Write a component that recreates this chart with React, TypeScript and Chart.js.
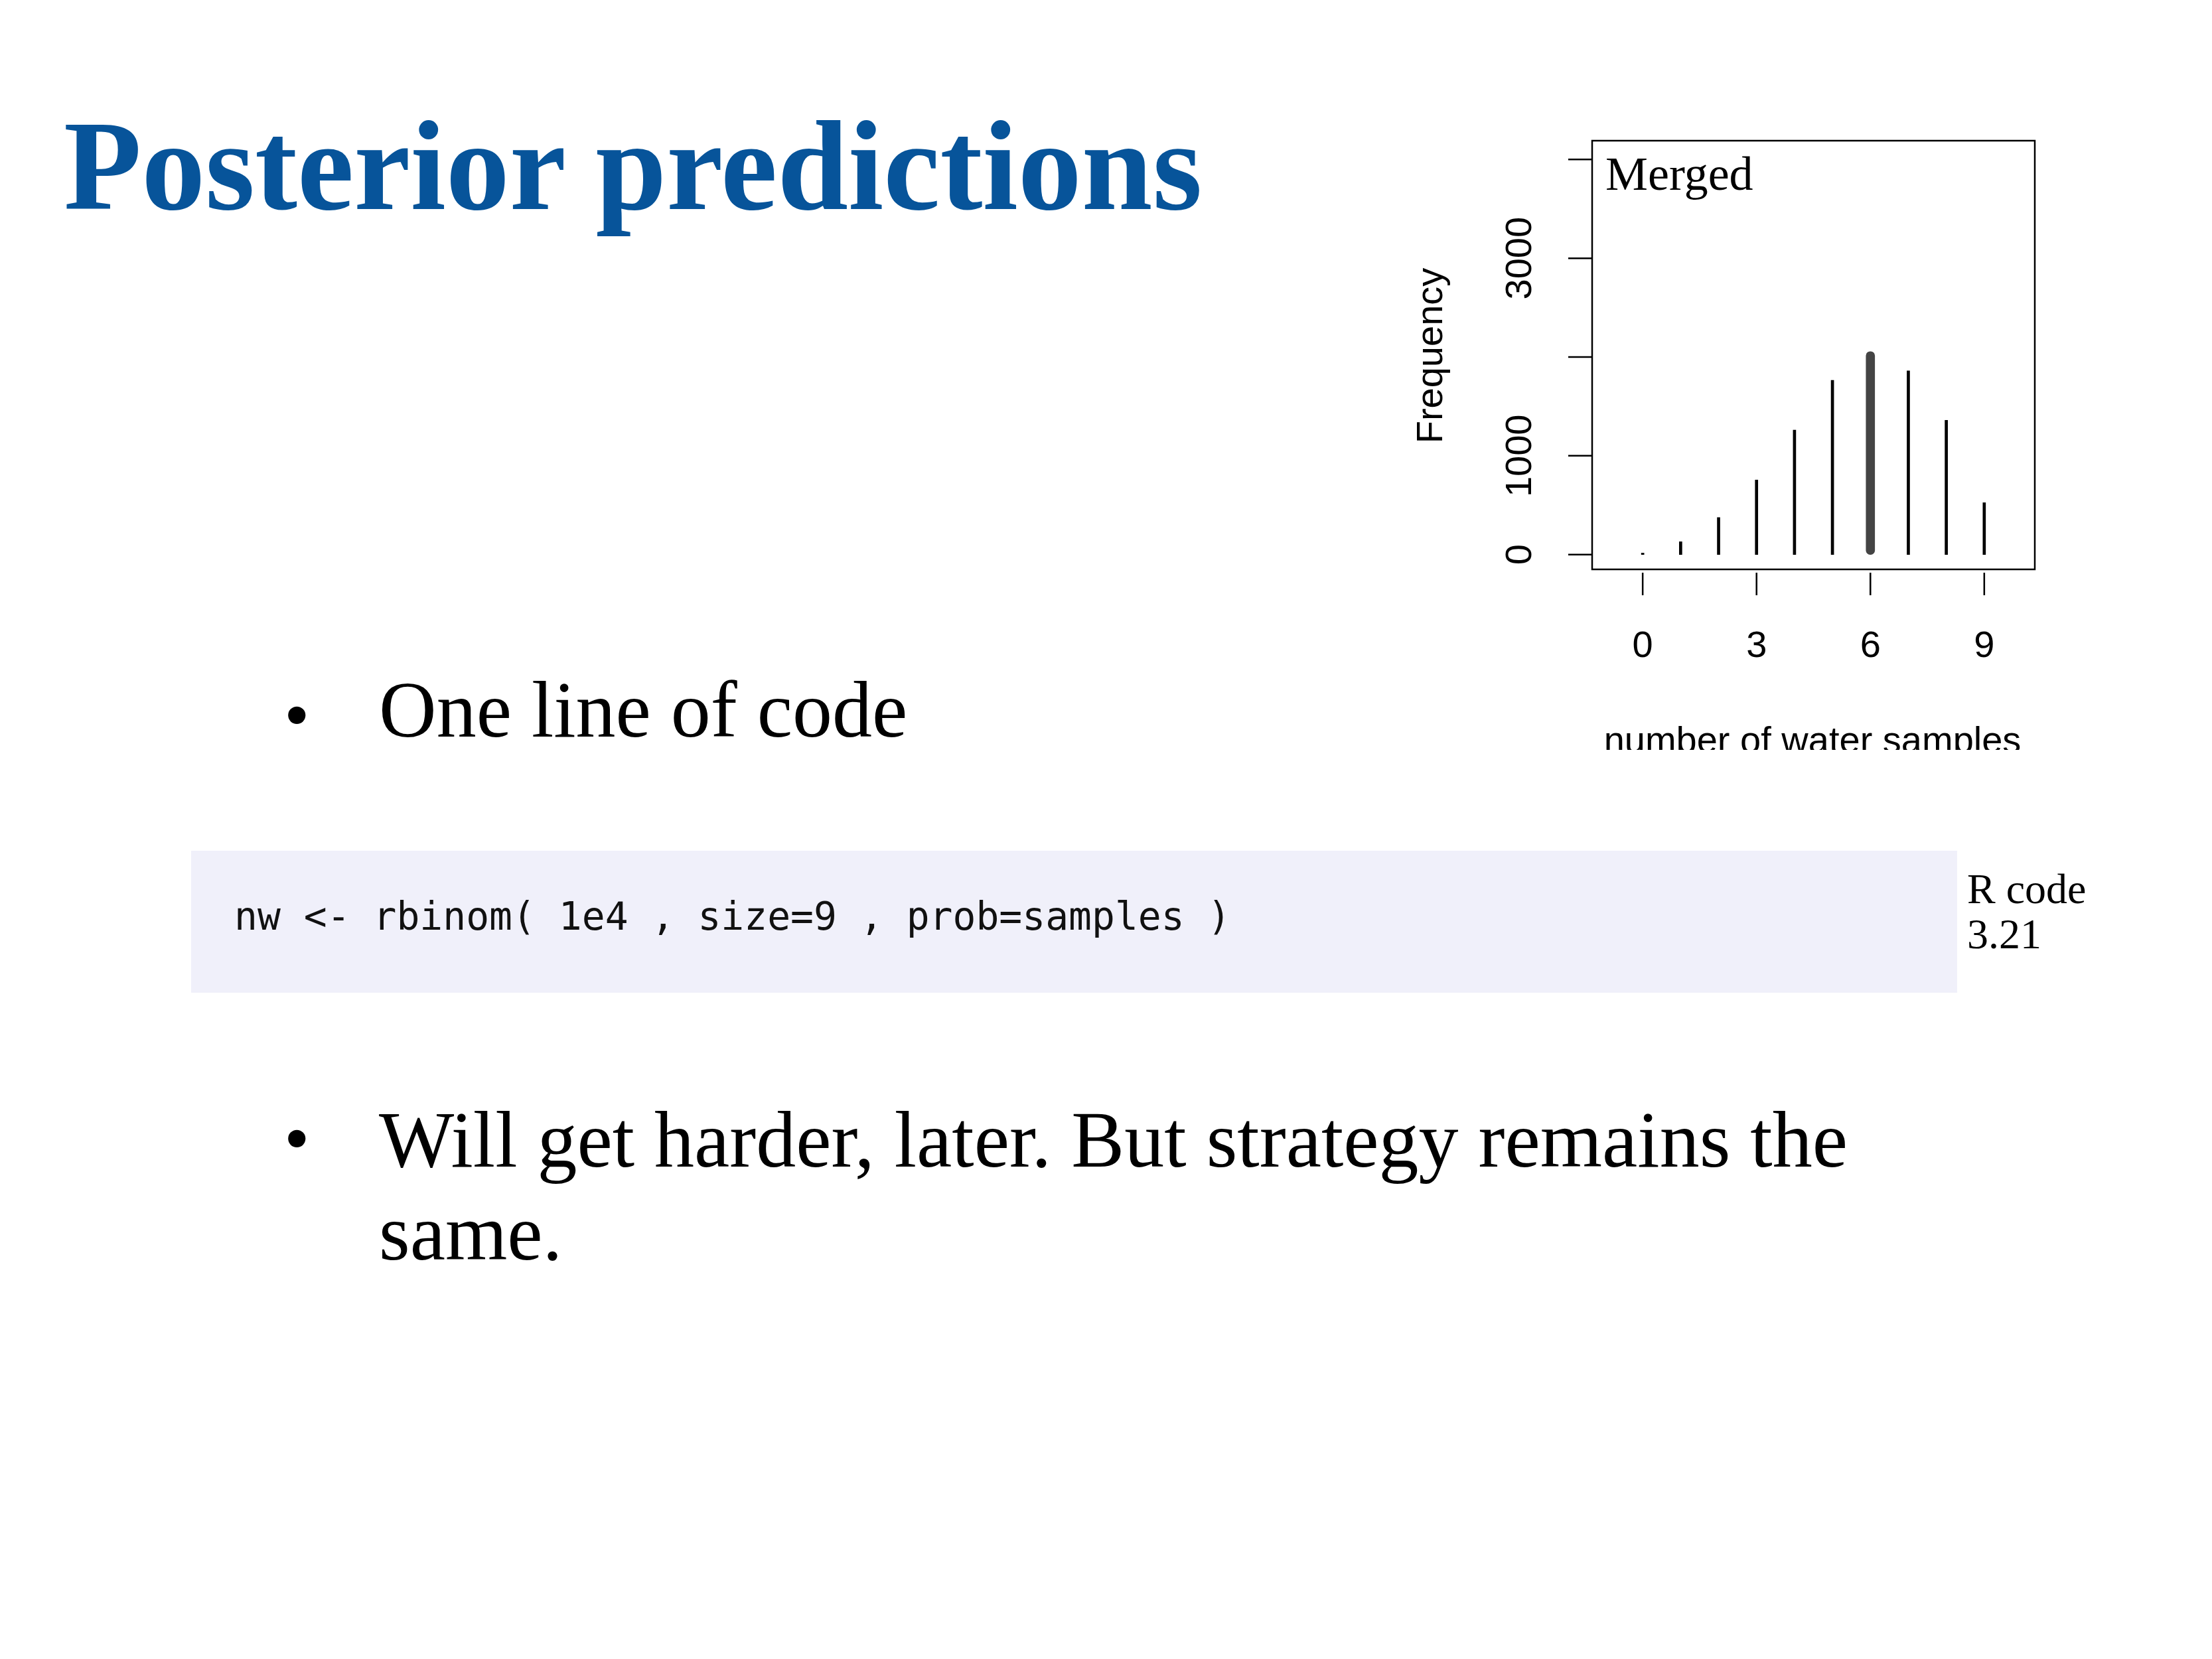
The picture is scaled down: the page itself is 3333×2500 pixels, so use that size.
import React, { useEffect, useRef } from "react";
import { Chart, registerables } from "chart.js";
Chart.register(...registerables);

const counts = [0, 1, 2, 3, 4, 5, 6, 7, 8, 9];
const frequency = [15, 130, 375, 755, 1260, 1765, 2055, 1860, 1360, 525];
const highlight = 6;
const yTicks = [0, 1000, 2000, 3000, 4000];
const yLabels = ["0", "1000", "", "3000", ""];
const xTicks = [0, 3, 6, 9];

const axesPlugin = {
  id: "raxes",
  afterDraw(chart: any) {
    const { ctx, chartArea: a, scales } = chart;
    const x = scales.x, y = scales.y;
    ctx.save();
    ctx.strokeStyle = "#000";
    ctx.lineWidth = 2.5;
    ctx.strokeRect(a.left, a.top, a.right - a.left, a.bottom - a.top);
    ctx.fillStyle = "#000";
    ctx.font = "56px 'Liberation Sans', Arial, sans-serif";
    yTicks.forEach((v, i) => {
      const py = y.getPixelForValue(v);
      ctx.beginPath(); ctx.moveTo(a.left - 36, py); ctx.lineTo(a.left, py); ctx.stroke();
      if (yLabels[i]) {
        ctx.save();
        ctx.translate(a.left - 107, py);
        ctx.rotate(-Math.PI / 2);
        ctx.textAlign = "center"; ctx.textBaseline = "middle";
        ctx.fillText(yLabels[i], 0, 0);
        ctx.restore();
      }
    });
    xTicks.forEach((v) => {
      const px = x.getPixelForValue(v);
      ctx.beginPath(); ctx.moveTo(px, a.bottom + 5); ctx.lineTo(px, a.bottom + 39); ctx.stroke();
      ctx.textAlign = "center"; ctx.textBaseline = "middle";
      ctx.fillText(String(v), px, 795);
    });
    ctx.fillText("number of water samples", 631, 939);
    ctx.save();
    ctx.translate(58, 356); ctx.rotate(-Math.PI / 2);
    ctx.fillText("Frequency", 0, 0);
    ctx.restore();
    ctx.font = "72px 'Liberation Serif', 'Times New Roman', serif";
    ctx.textAlign = "left"; ctx.textBaseline = "alphabetic";
    ctx.fillText("Merged", a.left + 20, 106);
    ctx.restore();
  },
};

export default function App() {
  const ref = useRef<HTMLCanvasElement>(null);
  useEffect(() => {
    const c = new Chart(ref.current!, {
      type: "bar",
      data: {
        datasets: [
          {
            data: counts.map((c, i) => ({ x: c, y: c === highlight ? null : frequency[i] })) as any,
            backgroundColor: "#000", barThickness: 4, grouped: false,
          } as any,
          {
            data: counts.map((c, i) => ({ x: c, y: c === highlight ? frequency[i] : null })) as any,
            backgroundColor: "#444", barThickness: 13, borderRadius: 7, borderSkipped: false, grouped: false,
          } as any,
        ],
      },
      options: {
        animation: false, responsive: false,
        layout: { padding: { left: 299, right: 54, top: 32, bottom: 272 } },
        plugins: { legend: { display: false }, tooltip: { enabled: false } },
        scales: {
          x: { type: "linear", min: -0.36, max: 9.36, display: false },
          y: { min: -150, max: 4190, display: false },
        },
      },
      plugins: [axesPlugin],
    });
    return () => c.destroy();
  }, []);
  const serif = "'Liberation Serif', 'Times New Roman', serif";
  return (
    <div style={{ position: "relative", width: 3333, height: 2500, background: "#fff", margin: -8, fontFamily: serif }}>
      <div style={{ position: "absolute", left: 96, top: 155, fontSize: 192, fontWeight: "bold", color: "#07549a", lineHeight: 1, whiteSpace: "nowrap" }}>Posterior predictions</div>
      <canvas ref={ref} width={1020} height={950} style={{ position: "absolute", left: 2100, top: 180, width: 1020, height: 950 }} />
      <div style={{ position: "absolute", left: 428, top: 1022, fontSize: 110, lineHeight: 1 }}>•</div>
      <div style={{ position: "absolute", left: 571, top: 1010, fontSize: 120, lineHeight: 1, whiteSpace: "nowrap" }}>One line of code</div>
      <div style={{ position: "absolute", left: 288, top: 1282, width: 2661, height: 214, background: "#f0f0fa" }} />
      <div style={{ position: "absolute", left: 353, top: 1352, fontSize: 58, lineHeight: 1, fontFamily: "'DejaVu Sans Mono', monospace", whiteSpace: "pre", color: "#111" }}>nw &lt;- rbinom( 1e4 , size=9 , prob=samples )</div>
      <div style={{ position: "absolute", left: 2964, top: 1306, fontSize: 64, lineHeight: "68px" }}>R code<br />3.21</div>
      <div style={{ position: "absolute", left: 428, top: 1660, fontSize: 110, lineHeight: 1 }}>•</div>
      <div style={{ position: "absolute", left: 571, top: 1648, fontSize: 120, lineHeight: "140px", width: 2400 }}>Will get harder, later. But strategy remains the<br />same.</div>
    </div>
  );
}
